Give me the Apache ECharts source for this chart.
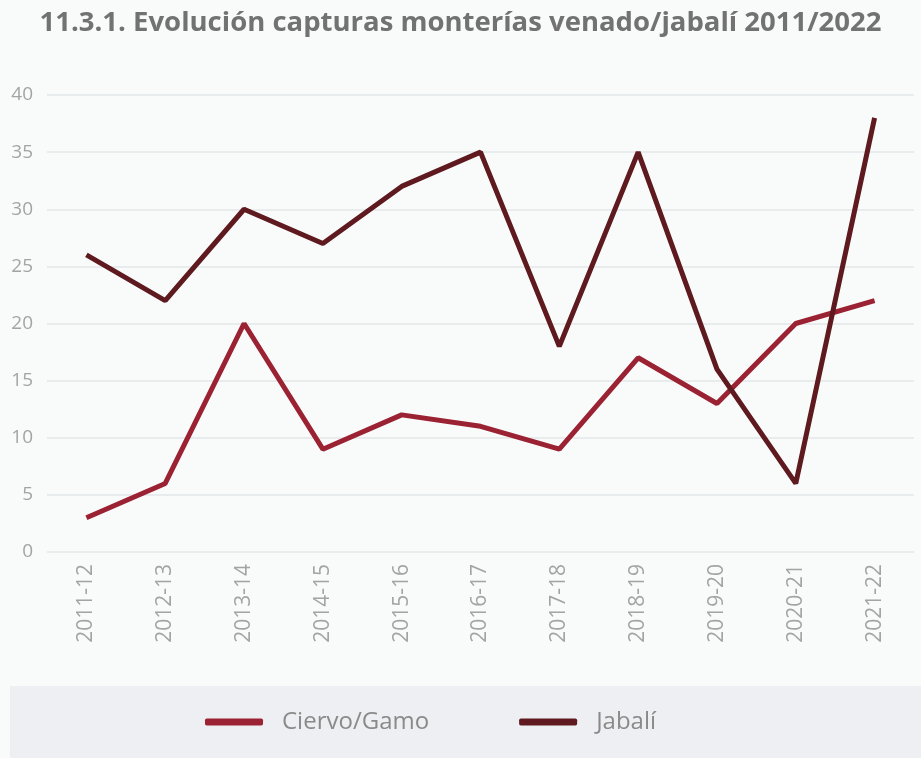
<!DOCTYPE html>
<html>
<head>
<meta charset="utf-8">
<script src="https://cdn.jsdelivr.net/npm/echarts@6/dist/echarts.min.js"></script>
<style>html,body{margin:0;padding:0;background:#f9fbfb;} #chart{width:921px;height:758px;}</style>
</head>
<body>
<div id="chart"></div>
<script>
var temporadas = ['2011-12','2012-13','2013-14','2014-15','2015-16','2016-17','2017-18','2018-19','2019-20','2020-21','2021-22'];
var ciervoGamo = [3, 6, 20, 9, 12, 11, 9, 17, 13, 20, 22];
var jabali = [26, 22, 30, 27, 32, 35, 18, 35, 16, 6, 38];

var chart = echarts.init(document.getElementById('chart'));
chart.setOption({
    backgroundColor: '#f9fbfb',
    animation: false,
    title: {
        text: '11.3.1. Evolución capturas monterías venado/jabalí 2011/2022',
        left: 'center',
        top: 4,
        textStyle: { fontFamily: 'Open Sans', fontSize: 27.5, fontWeight: 'bold', color: '#727272' }
    },
    graphic: [{
        type: 'rect', left: 10, top: 686, z: -1,
        shape: { width: 911, height: 72 },
        style: { fill: '#eeeff2' }
    }],
    legend: {
        top: 705,
        left: 200,
        icon: 'roundRect',
        itemWidth: 58,
        itemHeight: 7,
        itemGap: 90,
        textStyle: { fontFamily: 'Open Sans', fontSize: 24, color: '#8a8a8a', padding: [0, 0, 0, 14] },
        data: ['Ciervo/Gamo', 'Jabalí']
    },
    grid: { left: 47, right: 7, top: 95, bottom: 206 },
    xAxis: {
        type: 'category',
        data: temporadas,
        axisLine: { show: false },
        axisTick: { show: false },
        axisLabel: { rotate: 90, margin: 12, fontFamily: 'Open Sans', fontSize: 21, color: '#a4a4a4' }
    },
    yAxis: {
        type: 'value',
        min: 0, max: 40, interval: 5,
        axisLabel: { margin: 14, fontFamily: 'Open Sans', fontSize: 19, color: '#a4a4a4' },
        splitLine: { lineStyle: { color: '#e8ecec', width: 2 } }
    },
    series: [
        {
            name: 'Ciervo/Gamo', type: 'line', data: ciervoGamo,
            symbol: 'none', color: '#9a2232',
            lineStyle: { width: 5, color: '#9a2232' }
        },
        {
            name: 'Jabalí', type: 'line', data: jabali,
            symbol: 'none', color: '#5e1a1f',
            lineStyle: { width: 5, color: '#5e1a1f' }
        }
    ]
});
</script>
</body>
</html>
